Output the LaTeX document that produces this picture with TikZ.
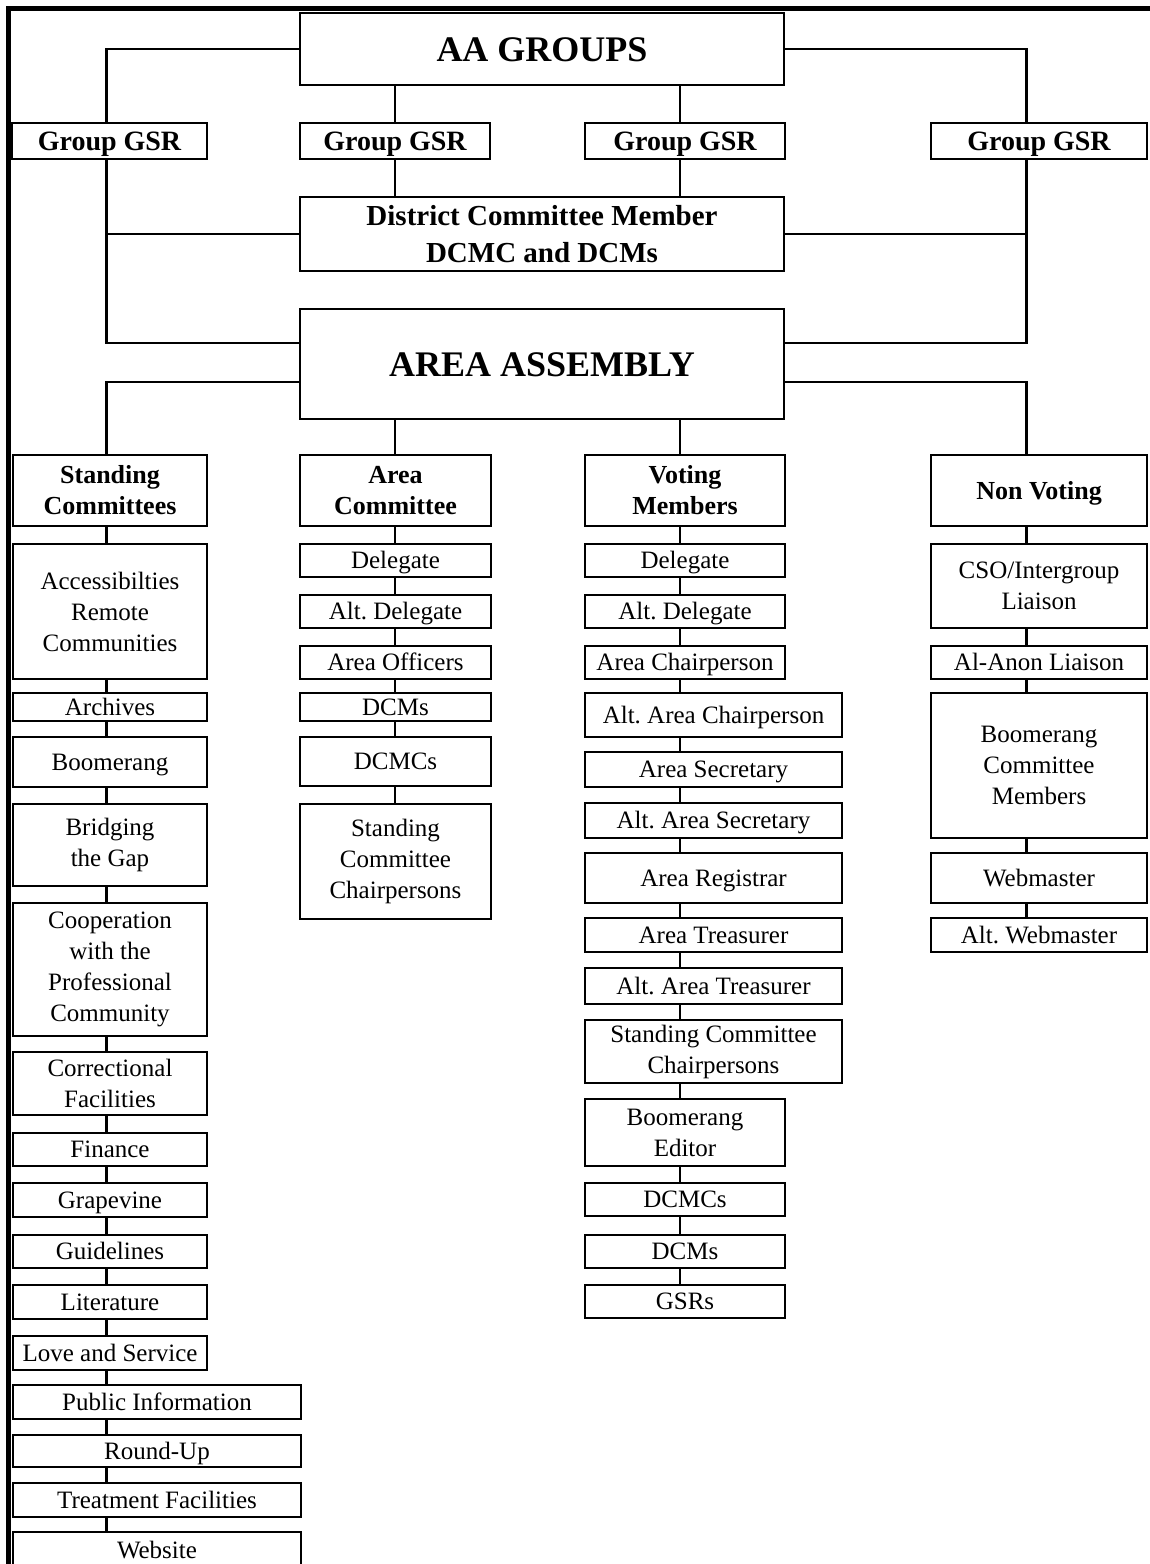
\documentclass[tikz,border=0pt]{standalone}
\usepackage{fontspec}
\setmainfont{Liberation Serif}
\frenchspacing

\begin{document}
\begin{tikzpicture}[x=1pt, y=-1pt,
  box/.style={draw, line width=2.6pt, inner sep=0pt, align=center, fill=white,
    font=\fontsize{25}{31}\selectfont},
  one/.style={text height=16.5pt, text depth=0pt},
  head/.style={box, minimum height=71pt, font=\fontsize{26}{31}\selectfont\bfseries},
  gsr/.style={box, minimum height=36pt, text height=18.5pt, text depth=0pt,
    font=\fontsize{28}{34}\selectfont\bfseries},
  big/.style={box, text height=24pt, text depth=0pt, font=\fontsize{36}{44}\selectfont\bfseries},
  link/.style={line width=2.2pt},
  colA/.style={box, minimum width=194pt},
  colB/.style={box, minimum width=191pt},
  colC/.style={box, minimum width=200pt},
  colW/.style={box, minimum width=257pt},
  colD/.style={box, minimum width=216pt}]
\useasboundingbox (0,0) rectangle (1149,1564);
\draw[line width=5pt] (1152,8.5) -- (8.5,8.5) -- (8.5,1570);
\coordinate (spineA) at (106.5,0);
\coordinate (spineB) at (395,0);
\coordinate (spineC) at (680,0);
\coordinate (spineD) at (1026.5,0);
% top of the chart
\node[big, minimum width=484pt, minimum height=72pt] (aa) at (542,49) {AA GROUPS};
\node[gsr, minimum width=195pt] (gsrA) at (109.5,141) {Group GSR};
\node[gsr, minimum width=190pt] (gsrB) at (395,141) {Group GSR};
\node[gsr, minimum width=200pt] (gsrC) at (685,141) {Group GSR};
\node[gsr, minimum width=216pt] (gsrD) at (1039,141) {Group GSR};
\node[box, minimum width=484pt, minimum height=74pt, font=\fontsize{29}{37}\selectfont\bfseries] (dcm) at (542,234) {District Committee Member\\DCMC and DCMs};
\node[big, minimum width=484pt, minimum height=110pt] (assembly) at (542,364) {AREA ASSEMBLY};
\draw[link] (aa.west) -| (gsrA.north -| spineA);
\draw[link] (aa.east) -| (gsrD.north -| spineD);
\draw[link] (aa.south -| spineB) -- (gsrB.north -| spineB);
\draw[link] (aa.south -| spineC) -- (gsrC.north -| spineC);
\draw[link] (gsrB.south -| spineB) -- (dcm.north -| spineB);
\draw[link] (gsrC.south -| spineC) -- (dcm.north -| spineC);
\draw[link] (gsrA.south -| spineA) |- ([yshift=-35pt]assembly.north west);
\draw[link] (gsrD.south -| spineD) |- ([yshift=-35pt]assembly.north east);
\draw[link] (dcm.west) -- (dcm.west -| spineA);
\draw[link] (dcm.east) -- (dcm.east -| spineD);
% the four columns
\node[head, minimum width=194pt] (sc) at (110,490.5) {Standing\\Committees};
\node[head, minimum width=191pt] (ac) at (395.5,490.5) {Area\\Committee};
\node[head, minimum width=200pt] (vm) at (685,490.5) {Voting\\Members};
\node[head, minimum width=216pt, text height=17.2pt, text depth=0pt] (nv) at (1039,490.5) {Non Voting};
\draw[link] ([yshift=-74pt]assembly.north west) -| (sc.north -| spineA);
\draw[link] ([yshift=-74pt]assembly.north east) -| (nv.north -| spineD);
\draw[link] (assembly.south -| spineB) -- (ac.north -| spineB);
\draw[link] (assembly.south -| spineC) -- (vm.north -| spineC);
% standing committees
\node[colA, minimum height=135pt] (acc) at (110,611.5) {Accessibilties\\Remote\\Communities};
\node[colA, one, minimum height=28pt] (arch) at (110,707) {Archives};
\node[colA, one, minimum height=50pt] (boom) at (110,762) {Boomerang};
\node[colA, minimum height=82pt] (bridge) at (110,845) {Bridging\\the Gap};
\node[colA, minimum height=133pt] (coop) at (110,969.5) {Cooperation\\with the\\Professional\\Community};
\node[colA, minimum height=63pt] (corr) at (110,1083.5) {Correctional\\Facilities};
\node[colA, one, minimum height=33pt] (fin) at (110,1149.5) {Finance};
\node[colA, one, minimum height=34pt] (grape) at (110,1200) {Grapevine};
\node[colA, one, minimum height=33pt] (guide) at (110,1251.5) {Guidelines};
\node[colA, one, minimum height=34pt] (lit) at (110,1302) {Literature};
\node[colA, one, minimum height=34pt] (love) at (110,1353) {Love and Service};
\node[box, one, minimum width=288pt, minimum height=34pt] (pubinfo) at (157,1402) {Public Information};
\node[box, one, minimum width=288pt, minimum height=32pt] (round) at (157,1451) {Round-Up};
\node[box, one, minimum width=288pt, minimum height=34pt] (treat) at (157,1500) {Treatment Facilities};
\node[box, one, minimum width=288pt, minimum height=36pt] (web) at (157,1550) {Website};
\draw[link] (sc.south -| spineA) -- (acc.north -| spineA);
\draw[link] (acc.south -| spineA) -- (arch.north -| spineA);
\draw[link] (arch.south -| spineA) -- (boom.north -| spineA);
\draw[link] (boom.south -| spineA) -- (bridge.north -| spineA);
\draw[link] (bridge.south -| spineA) -- (coop.north -| spineA);
\draw[link] (coop.south -| spineA) -- (corr.north -| spineA);
\draw[link] (corr.south -| spineA) -- (fin.north -| spineA);
\draw[link] (fin.south -| spineA) -- (grape.north -| spineA);
\draw[link] (grape.south -| spineA) -- (guide.north -| spineA);
\draw[link] (guide.south -| spineA) -- (lit.north -| spineA);
\draw[link] (lit.south -| spineA) -- (love.north -| spineA);
\draw[link] (love.south -| spineA) -- (pubinfo.north -| spineA);
\draw[link] (pubinfo.south -| spineA) -- (round.north -| spineA);
\draw[link] (round.south -| spineA) -- (treat.north -| spineA);
\draw[link] (treat.south -| spineA) -- (web.north -| spineA);
% area committee
\node[colB, one, minimum height=33pt] (acDel) at (395.5,560.5) {Delegate};
\node[colB, one, minimum height=33pt] (acAlt) at (395.5,611.5) {Alt. Delegate};
\node[colB, one, minimum height=33pt] (acOff) at (395.5,662.5) {Area Officers};
\node[colB, one, minimum height=28pt] (acDcm) at (395.5,707) {DCMs};
\node[colB, one, minimum height=49pt] (acDcmc) at (395.5,761.5) {DCMCs};
\node[colB, minimum height=115pt] (acChairs) at (395.5,861.5) {Standing\\Committee\\Chairpersons};
\draw[link] (ac.south -| spineB) -- (acDel.north -| spineB);
\draw[link] (acDel.south -| spineB) -- (acAlt.north -| spineB);
\draw[link] (acAlt.south -| spineB) -- (acOff.north -| spineB);
\draw[link] (acOff.south -| spineB) -- (acDcm.north -| spineB);
\draw[link] (acDcm.south -| spineB) -- (acDcmc.north -| spineB);
\draw[link] (acDcmc.south -| spineB) -- (acChairs.north -| spineB);
% voting members
\node[colC, one, minimum height=33pt] (vmDel) at (685,560.5) {Delegate};
\node[colC, one, minimum height=33pt] (vmAlt) at (685,611.5) {Alt. Delegate};
\node[colC, one, minimum height=33pt] (vmChair) at (685,662.5) {Area Chairperson};
\node[colW, one, minimum height=44pt] (vmAltChair) at (713.5,715) {Alt. Area Chairperson};
\node[colW, one, minimum height=35pt] (vmSec) at (713.5,769.5) {Area Secretary};
\node[colW, one, minimum height=35pt] (vmAltSec) at (713.5,820.5) {Alt. Area Secretary};
\node[colW, one, minimum height=50pt] (vmReg) at (713.5,878) {Area Registrar};
\node[colW, one, minimum height=34pt] (vmTreas) at (713.5,935) {Area Treasurer};
\node[colW, one, minimum height=36pt] (vmAltTreas) at (713.5,986) {Alt. Area Treasurer};
\node[colW, minimum height=63pt] (vmChairs) at (713.5,1051.5) {Standing Committee\\Chairpersons};
\node[colC, minimum height=67pt] (vmEditor) at (685,1132.5) {Boomerang\\Editor};
\node[colC, one, minimum height=33pt] (vmDcmc) at (685,1199.5) {DCMCs};
\node[colC, one, minimum height=33pt] (vmDcm) at (685,1251.5) {DCMs};
\node[colC, one, minimum height=33pt] (vmGsr) at (685,1301.5) {GSRs};
\draw[link] (vm.south -| spineC) -- (vmDel.north -| spineC);
\draw[link] (vmDel.south -| spineC) -- (vmAlt.north -| spineC);
\draw[link] (vmAlt.south -| spineC) -- (vmChair.north -| spineC);
\draw[link] (vmChair.south -| spineC) -- (vmAltChair.north -| spineC);
\draw[link] (vmAltChair.south -| spineC) -- (vmSec.north -| spineC);
\draw[link] (vmSec.south -| spineC) -- (vmAltSec.north -| spineC);
\draw[link] (vmAltSec.south -| spineC) -- (vmReg.north -| spineC);
\draw[link] (vmReg.south -| spineC) -- (vmTreas.north -| spineC);
\draw[link] (vmTreas.south -| spineC) -- (vmAltTreas.north -| spineC);
\draw[link] (vmAltTreas.south -| spineC) -- (vmChairs.north -| spineC);
\draw[link] (vmChairs.south -| spineC) -- (vmEditor.north -| spineC);
\draw[link] (vmEditor.south -| spineC) -- (vmDcmc.north -| spineC);
\draw[link] (vmDcmc.south -| spineC) -- (vmDcm.north -| spineC);
\draw[link] (vmDcm.south -| spineC) -- (vmGsr.north -| spineC);
% non voting
\node[colD, minimum height=84pt] (cso) at (1039,586) {CSO/Intergroup\\Liaison};
\node[colD, one, minimum height=33pt] (alanon) at (1039,662.5) {Al-Anon Liaison};
\node[colD, minimum height=145pt] (boomcm) at (1039,765.5) {Boomerang\\Committee\\Members};
\node[colD, one, minimum height=50pt] (webm) at (1039,878) {Webmaster};
\node[colD, one, minimum height=34pt] (altweb) at (1039,935) {Alt. Webmaster};
\draw[link] (nv.south -| spineD) -- (cso.north -| spineD);
\draw[link] (cso.south -| spineD) -- (alanon.north -| spineD);
\draw[link] (alanon.south -| spineD) -- (boomcm.north -| spineD);
\draw[link] (boomcm.south -| spineD) -- (webm.north -| spineD);
\draw[link] (webm.south -| spineD) -- (altweb.north -| spineD);
\end{tikzpicture}
\end{document}
